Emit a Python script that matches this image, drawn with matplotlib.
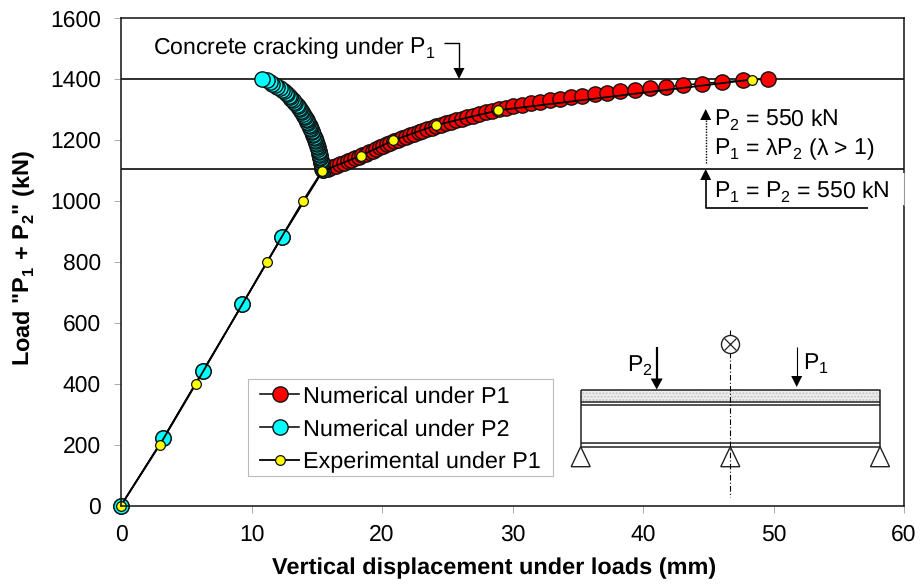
import matplotlib
matplotlib.use('Agg')
import matplotlib.pyplot as plt
from matplotlib.lines import Line2D
from matplotlib.patches import Rectangle, Polygon

plt.rcParams['font.family'] = ['Liberation Sans', 'DejaVu Sans']
plt.rcParams['mathtext.fontset'] = 'custom'
plt.rcParams['mathtext.rm'] = 'Liberation Sans'
plt.rcParams['mathtext.bf'] = 'Liberation Sans:bold'
plt.rcParams['text.hinting'] = 'no_hinting'

# common part of both numerical curves (proportional stage)
elastic_disp = [0, 3.24, 6.26, 9.3, 12.31]
elastic_load = [0, 220, 440, 660, 880]

# non proportional stage, 1100 to 1400 kN
step_load = [1100, 1105, 1110, 1115, 1120, 1125, 1130, 1135, 1140, 1145, 1150, 1155, 1160, 1165, 1170, 1175,
             1180, 1185, 1190, 1195, 1200, 1205, 1210, 1215, 1220, 1225, 1230, 1235, 1240, 1245, 1250, 1255,
             1260, 1265, 1270, 1275, 1280, 1285, 1290, 1295, 1300, 1305, 1310, 1315, 1320, 1325, 1330, 1335,
             1340, 1345, 1350, 1355, 1360, 1365, 1370, 1375, 1380, 1385, 1390, 1395, 1400]
p1_disp = [15.5, 15.85, 16.2, 16.5, 16.8, 17.1, 17.4, 17.65, 17.95, 18.2, 18.5, 18.75, 19.0, 19.3, 19.55, 19.85,
           20.1, 20.4, 20.65, 20.95, 21.25, 21.55, 21.85, 22.15, 22.45, 22.8, 23.1, 23.45, 23.8, 24.15, 24.55, 24.9,
           25.3, 25.7, 26.1, 26.55, 27.0, 27.45, 27.95, 28.45, 28.95, 29.5, 30.05, 30.7, 31.4, 32.1, 32.85, 33.65,
           34.45, 35.35, 36.3, 37.25, 38.25, 39.35, 40.55, 41.8, 43.1, 44.55, 46.05, 47.65, 49.55]
p2_disp = [15.46, 15.44, 15.42, 15.4, 15.38, 15.36, 15.33, 15.31, 15.28, 15.26, 15.23, 15.2, 15.17, 15.14, 15.1, 15.07,
           15.03, 14.99, 14.95, 14.91, 14.87, 14.83, 14.78, 14.74, 14.69, 14.65, 14.6, 14.55, 14.5, 14.45, 14.4, 14.34,
           14.28, 14.22, 14.15, 14.08, 14.01, 13.94, 13.87, 13.8, 13.72, 13.64, 13.56, 13.47, 13.37, 13.27, 13.16, 13.05,
           12.95, 12.84, 12.73, 12.63, 12.48, 12.32, 12.15, 11.98, 11.8, 11.6, 11.4, 11.15, 10.8]

exp_disp = [0, 2.99, 5.75, 11.19, 13.95, 15.4, 18.37, 20.84, 24.1, 28.9, 48.35]
exp_load = [0, 200, 400, 800, 1000, 1097, 1148, 1198, 1248, 1297, 1398]

crack_loads = [1400, 1105]

x_ticks = [0, 10, 20, 30, 40, 50, 60]
y_ticks = [0, 200, 400, 600, 800, 1000, 1200, 1400, 1600]

W, H = 923, 587
fig = plt.figure(figsize=(W / 100, H / 100), dpi=100)
ax = fig.add_axes([121 / W, 1 - 505.5 / H, (904 - 121) / W, (505.5 - 18) / H])


def px(x, y):
    # picture pixels to figure fraction
    return x / W, 1 - y / H


for c in crack_loads:
    ax.axhline(c, color='black', lw=1.15, zorder=1)

ax.plot(elastic_disp + p1_disp, elastic_load + step_load, '-o', color='black', lw=1.1, ms=11,
        mfc='red', mec='#111111', mew=1.0, label='Numerical under P1', zorder=2, clip_on=False)
ax.plot(elastic_disp + p2_disp, elastic_load + step_load, '-o', color='black', lw=1.1, ms=11,
        mfc='cyan', mec='#111111', mew=1.0, label='Numerical under P2', zorder=2.1, clip_on=False)
ax.plot(exp_disp, exp_load, '-o', color='black', lw=1.3, ms=7,
        mfc='yellow', mec='#111111', mew=0.9, label='Experimental under P1', zorder=2.2, clip_on=False)

ax.set_xlim(0, 60)
ax.set_ylim(0, 1600)
ax.set_xticks(x_ticks)
ax.set_yticks(y_ticks)
ax.tick_params(axis='both', length=5, width=0.7, color='#aaaaaa', labelsize=16.5, labelcolor='black')
ax.tick_params(axis='x', pad=8.5)
ax.tick_params(axis='y', pad=9.5)
for s in ax.spines.values():
    s.set_linewidth(1.1)
    s.set_color('#111111')

fig.text(*px(494, 568), 'Vertical displacement under loads (mm)', fontsize=16.9, fontweight='bold',
         ha='center', va='center')
fig.text(*px(24, 258), 'Load "P$_{\\mathbf{1}}$ + P$_{\\mathbf{2}}$" (kN)', fontsize=16.9, fontweight='bold',
         rotation=90, ha='center', va='center')

# legend frame drawn by hand so that its width follows the picture
ax.add_patch(Rectangle(px(248, 476), 305 / W, 97 / H, transform=fig.transFigure, fc='white', ec='#bbbbbb',
                       lw=0.8, clip_on=False, zorder=3.5))
leg = ax.legend(loc='lower left', bbox_to_anchor=((260 - 121) / 783, (505.5 - 473) / 487.5), borderaxespad=0,
                fontsize=16.8, frameon=False, handlelength=1.68, handletextpad=0.16, labelspacing=0.49,
                borderpad=0, markerscale=1)
leg.set_zorder(4)

# white patch where the label box sits over the right border
ax.add_patch(Rectangle(px(895, 205), 11 / W, 32 / H, transform=fig.transFigure, fc='white', ec='none',
                       clip_on=False, zorder=5))
fig.add_artist(Line2D([904 / W, 904 / W], [1 - 173 / H, 1 - 205 / H], color='#999999', lw=0.8))


def line(xs, ys, **kw):
    kw.setdefault('color', 'black')
    kw.setdefault('lw', 1.1)
    kw.setdefault('solid_capstyle', 'butt')
    fig.add_artist(Line2D([x / W for x in xs], [1 - y / H for y in ys], zorder=6, **kw))


def head(x, tip, direction, w=5.5, l=11):
    # direction 1 = pointing down, -1 = pointing up
    pts = [px(x, tip), px(x - w, tip - direction * l), px(x + w, tip - direction * l)]
    fig.add_artist(Polygon(pts, closed=True, transform=fig.transFigure, fc='black', ec='none', zorder=6))


# annotations
fs = 16.6
fig.text(*px(153, 48), 'Concrete cracking under P$_1$', fontsize=fs, ha='left', va='center')
line([444, 459, 459], [43, 43, 70], lw=1.0)
head(459, 79, 1)

line([705.7, 705.7], [120, 163], lw=1.0, ls=(0, (1, 1)))
head(705.7, 109, -1)
fig.text(*px(714, 120), 'P$_2$ = 550 kN', fontsize=fs, ha='left', va='center')
fig.text(*px(714, 149), 'P$_1$ = λP$_2$ (λ > 1)', fontsize=fs, ha='left', va='center')

line([868, 705.7, 705.7], [208.3, 208.3, 180], lw=1.2)
head(705.7, 169, -1)
fig.text(*px(714, 192), 'P$_1$ = P$_2$ = 550 kN', fontsize=fs, ha='left', va='center')

# beam sketch
fig.add_artist(Rectangle(px(580.7, 401.7), 299.3 / W, 11.7 / H, transform=fig.transFigure, fc='#eeeeee',
                         ec='#c4c4c4', hatch='.....', lw=0, zorder=5))
line([580.7, 880, 880, 580.7, 580.7], [390, 390, 446.7, 446.7, 390], color='#222222')
line([580.7, 880], [401.7, 401.7], color='#222222')
line([580.7, 880], [405, 405], color='#222222')
line([580.7, 880], [442.7, 442.7], color='#222222')
for tx in [580.7, 730.3, 880]:
    fig.add_artist(Polygon([px(tx, 446.7), px(tx - 9.5, 466.7), px(tx + 9.5, 466.7)], closed=True,
                           transform=fig.transFigure, fc='white', ec='#222222', lw=1.0, zorder=6))
line([730.3, 730.3], [330, 497], lw=0.8, ls=(0, (5, 2, 1, 2)))
cx, cy = px(730.3, 344)
fig.add_artist(Line2D([cx], [cy], marker='o', ms=13, mfc='white', mec='#222222', mew=1.0, zorder=6.5))
fig.add_artist(Line2D([cx], [cy], marker='x', ms=9, mec='#222222', mew=0.9, zorder=7))

line([656.7, 656.7], [347, 380], lw=1.6)
head(656.7, 389.5, 1, w=6, l=11)
line([796.7, 796.7], [347, 380], lw=0.8)
head(796.7, 387, 1, w=5.5, l=11)
fig.text(*px(627, 365), 'P$_2$', fontsize=fs, ha='left', va='center')
fig.text(*px(803, 363), 'P$_1$', fontsize=fs, ha='left', va='center')

fig.savefig('out.png', dpi=100)
